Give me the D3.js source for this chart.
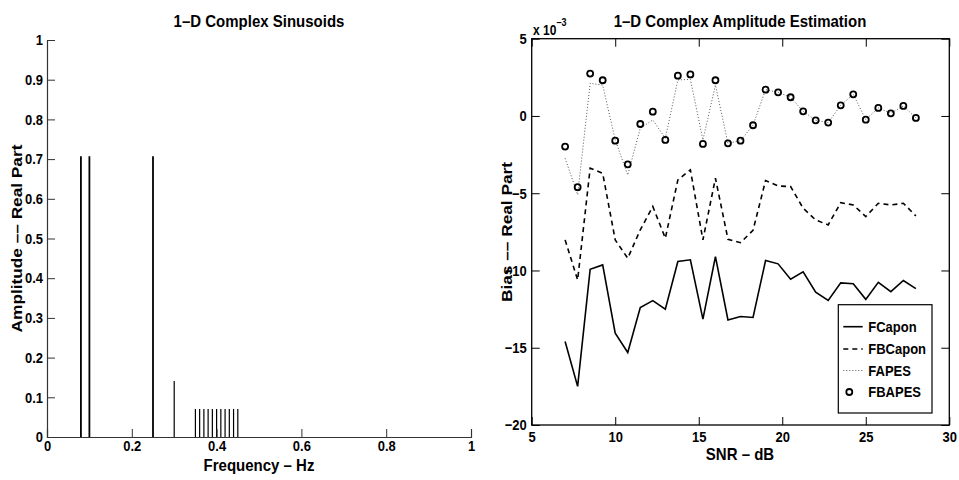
<!DOCTYPE html>
<html>
<head>
<meta charset="utf-8">
<script src="https://cdn.jsdelivr.net/npm/d3@7/dist/d3.min.js"></script>
<style>
  html, body { margin: 0; padding: 0; background: #fff; }
  svg { display: block; }
  text { font-family: "Liberation Sans", Arial, Helvetica, sans-serif; font-weight: bold; fill: #000; }
</style>
</head>
<body>
<svg id="chart" width="959" height="480"></svg>
<script>
// ---------- Left panel data ----------
const stemFreqs = [0.08, 0.10, 0.25, 0.30, 0.35, 0.36, 0.37, 0.38, 0.39, 0.40, 0.41, 0.42, 0.43, 0.44, 0.45];
const stemAmps  = [0.707, 0.707, 0.707, 0.141, 0.0707, 0.0707, 0.0707, 0.0707, 0.0707, 0.0707, 0.0707, 0.0707, 0.0707, 0.0707, 0.0707];
const leftXTicks = [0, 0.2, 0.4, 0.6, 0.8, 1];
const leftYTicks = [0, 0.1, 0.2, 0.3, 0.4, 0.5, 0.6, 0.7, 0.8, 0.9, 1];

// ---------- Right panel data (units of 1e-3) ----------
const snr = [7, 7.75, 8.5, 9.25, 10, 10.75, 11.5, 12.25, 13, 13.75, 14.5, 15.25, 16, 16.75, 17.5,
             18.25, 19, 19.75, 20.5, 21.25, 22, 22.75, 23.5, 24.25, 25, 25.75, 26.5, 27.25, 28];
const fcapon  = [-14.6, -17.5, -9.92, -9.64, -14.06, -15.31, -12.4, -11.95, -12.5, -9.42, -9.31, -13.15, -9.10, -13.2, -12.98,
                 -13.04, -9.36, -9.57, -10.56, -10.09, -11.41, -11.94, -10.8, -10.86, -11.87, -10.77, -11.37, -10.65, -11.17];
const fbcapon = [-8.02, -10.61, -3.38, -3.71, -8.02, -9.21, -7.37, -5.86, -7.91, -4.14, -3.49, -8.02, -4.03, -7.98, -8.2,
                 -7.4, -4.18, -4.53, -4.57, -5.97, -6.73, -7.05, -5.61, -5.76, -6.51, -5.65, -5.76, -5.65, -6.47];
const fapes   = [-2.74, -5.1, 2.11, 2.0, -1.55, -3.82, -0.80, -0.26, -1.44, 2.33, 2.37, -1.55, 2.0, -1.77, -1.60,
                 -0.60, 1.70, 1.53, 1.21, 0.30, -0.28, -0.43, 0.69, 1.40, -0.24, 0.52, 0.17, 0.65, -0.13];
const fbapes  = [-1.98, -4.61, 2.74, 2.31, -1.60, -3.13, -0.52, 0.28, -1.55, 2.61, 2.69, -1.81, 2.31, -1.77, -1.60,
                 -0.60, 1.70, 1.53, 1.21, 0.30, -0.28, -0.43, 0.69, 1.40, -0.24, 0.52, 0.17, 0.65, -0.13];
const rightXTicks = [5, 10, 15, 20, 25, 30];
const rightYTicks = [5, 0, -5, -10, -15, -20];
const legendNames = ["FCapon", "FBCapon", "FAPES", "FBAPES"];

const S = 1.15;   // the reference's glyphs are taller than they are wide
const svg = d3.select("#chart");

function stretchTicks(sel) {
  sel.each(function () {
    const t = d3.select(this);
    const x = +t.attr("x") || 0, y = +t.attr("y") || 0;
    t.attr("x", 0).attr("y", 0).attr("transform", `translate(${x},${y}) scale(1,${S})`);
  });
}
function hText(g, x, y, size, str, anchor) {
  return g.append("text").attr("transform", `translate(${x},${y}) scale(1,${S})`)
    .attr("text-anchor", anchor || "middle").style("font-size", size + "px").text(str);
}
function vText(g, x, y, size, str) {
  return g.append("text").attr("transform", `translate(${x},${y}) scale(1,${S}) rotate(-90)`)
    .attr("text-anchor", "middle").style("font-size", size + "px").text(str);
}
const tickFont = g => g.selectAll(".tick text").style("font-size", "13px").style("font-weight", "bold")
  .style("font-family", '"Liberation Sans", Arial, sans-serif').attr("fill", "#000");

// ================= LEFT PANEL =================
const xL = d3.scaleLinear().domain([0, 1]).range([47, 471]);
const yL = d3.scaleLinear().domain([0, 1]).range([437, 40]);
const gL = svg.append("g");

gL.selectAll("line.stem").data(stemFreqs).enter().append("line")
  .attr("class", "stem")
  .attr("x1", d => xL(d)).attr("x2", d => xL(d))
  .attr("y1", yL(0)).attr("y2", (d, i) => yL(stemAmps[i]))
  .attr("stroke", "#000")
  .attr("stroke-width", (d, i) => stemAmps[i] > 0.5 ? 1.8 : 1.2);

const fmtL = d => (d === 0 || d === 1) ? d3.format("d")(d) : d3.format(".1f")(d);
const axLg = gL.append("g").attr("transform", `translate(${xL(0)},0)`)
  .call(d3.axisLeft(yL).tickValues(leftYTicks).tickSize(-8).tickPadding(4).tickFormat(fmtL));
const axBg = gL.append("g").attr("transform", `translate(0,${yL(0)})`)
  .call(d3.axisBottom(xL).tickValues(leftXTicks).tickSize(-8).tickPadding(3).tickFormat(fmtL));
[axLg, axBg].forEach(g => {
  g.select(".domain").attr("stroke", "#333").attr("stroke-width", 1.2);
  g.selectAll(".tick line").attr("stroke", "#333").attr("stroke-width", 1);
  tickFont(g);
  stretchTicks(g.selectAll(".tick text"));
});

hText(gL, 259, 27, 15, "1\u2013D Complex Sinusoids");
hText(gL, 259, 471, 15, "Frequency \u2013 Hz");
vText(gL, 22, 238.5, 15, "Amplitude \u2013\u2013 Real Part");

// ================= RIGHT PANEL =================
const xR = d3.scaleLinear().domain([5, 30]).range([531.7, 949.3]);
const yR = d3.scaleLinear().domain([-20, 5]).range([425, 38.7]);
const gR = svg.append("g");

gR.append("rect").attr("x", xR(5)).attr("y", yR(5))
  .attr("width", xR(30) - xR(5)).attr("height", yR(-20) - yR(5))
  .attr("fill", "none").attr("stroke", "#000").attr("stroke-width", 1.3);

const styleAxis = g => {
  g.select(".domain").remove();
  g.selectAll(".tick line").attr("stroke", "#000").attr("stroke-width", 1);
  tickFont(g);
  stretchTicks(g.selectAll(".tick text"));
};
gR.append("g").attr("transform", `translate(${xR(5)},0)`)
  .call(d3.axisLeft(yR).tickValues(rightYTicks).tickSize(-8).tickPadding(5).tickFormat(d3.format("d"))).call(styleAxis);
gR.append("g").attr("transform", `translate(${xR(30)},0)`)
  .call(d3.axisRight(yR).tickValues(rightYTicks).tickSize(-8).tickFormat("")).call(styleAxis);
gR.append("g").attr("transform", `translate(0,${yR(-20)})`)
  .call(d3.axisBottom(xR).tickValues(rightXTicks).tickSize(-8).tickPadding(6).tickFormat(d3.format("d"))).call(styleAxis);
gR.append("g").attr("transform", `translate(0,${yR(5)})`)
  .call(d3.axisTop(xR).tickValues(rightXTicks).tickSize(-8).tickFormat("")).call(styleAxis);

const line = d3.line().x((d, i) => xR(snr[i])).y(d => yR(d));
gR.append("path").datum(fapes).attr("d", line).attr("fill", "none")
  .attr("stroke", "#555").attr("stroke-width", 1).attr("stroke-dasharray", "1,2");
gR.append("path").datum(fbcapon).attr("d", line).attr("fill", "none")
  .attr("stroke", "#000").attr("stroke-width", 1.6).attr("stroke-dasharray", "5,4");
gR.append("path").datum(fcapon).attr("d", line).attr("fill", "none")
  .attr("stroke", "#000").attr("stroke-width", 1.6);
gR.selectAll("circle.fb").data(fbapes).enter().append("circle")
  .attr("class", "fb")
  .attr("cx", (d, i) => xR(snr[i])).attr("cy", d => yR(d)).attr("r", 3)
  .attr("fill", "none").attr("stroke", "#000").attr("stroke-width", 1.8);

// exponent
const ex = gR.append("text").attr("transform", `translate(533,35) scale(1,${S})`).style("font-size", "12px");
ex.append("tspan").text("x 10");
ex.append("tspan").attr("dy", -8).style("font-size", "9px").text("\u22123");

hText(gR, 740, 27, 15, "1\u2013D Complex Amplitude Estimation");
hText(gR, 740, 460, 15, "SNR \u2013 dB");
vText(gR, 512, 232, 15, "Bias \u2013\u2013 Real Part");

// legend
const lg = gR.append("g");
lg.append("rect").attr("x", 838.3).attr("y", 304.7).attr("width", 93.7).attr("height", 108.3)
  .attr("fill", "#fff").attr("stroke", "#000").attr("stroke-width", 1.2);
const legY = [326.7, 349, 370.5, 392];
const legStyles = [
  { dash: null, w: 1.6, c: "#000" },
  { dash: "5,4", w: 1.6, c: "#000" },
  { dash: "1,2", w: 1, c: "#555" }
];
legStyles.forEach((s, i) => {
  const l = lg.append("line").attr("x1", 843.3).attr("x2", 862.7)
    .attr("y1", legY[i]).attr("y2", legY[i])
    .attr("stroke", s.c).attr("stroke-width", s.w);
  if (s.dash) l.attr("stroke-dasharray", s.dash);
});
lg.append("circle").attr("cx", 849.3).attr("cy", legY[3]).attr("r", 3)
  .attr("fill", "none").attr("stroke", "#000").attr("stroke-width", 1.8);
legendNames.forEach((n, i) => {
  lg.append("text").attr("transform", `translate(868.3,${legY[i]}) scale(1,${S})`)
    .attr("dy", "0.36em").style("font-size", "13px").text(n);
});
</script>
</body>
</html>
